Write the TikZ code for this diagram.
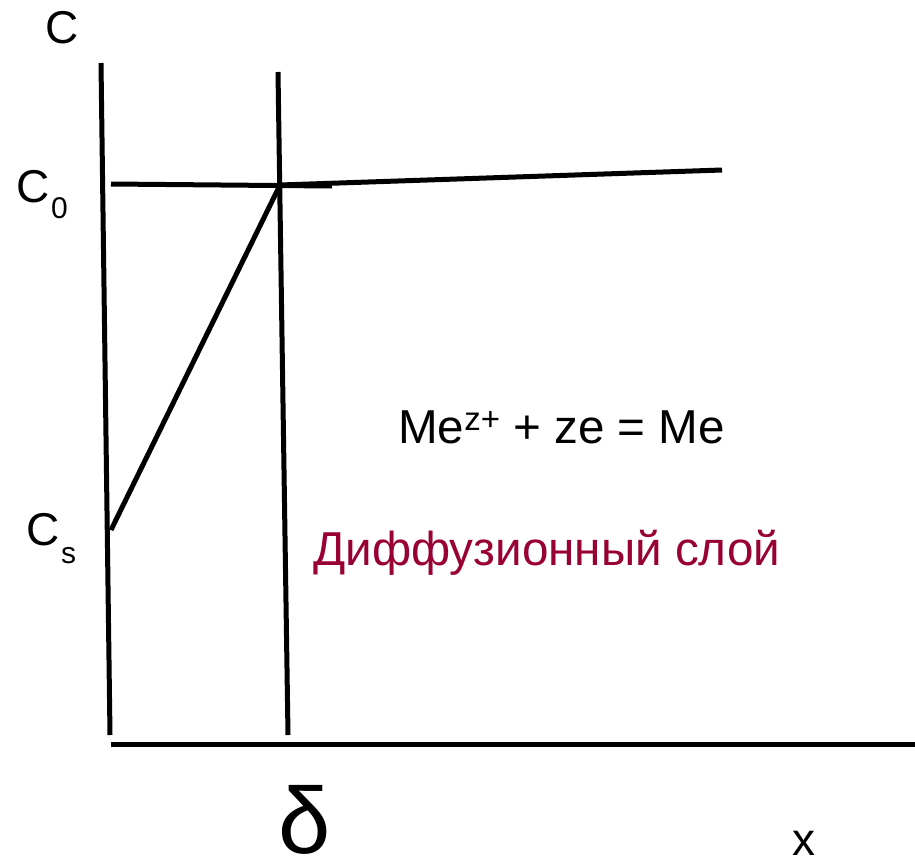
\documentclass[tikz,border=0pt]{standalone}
\usepackage{fontspec}
\setmainfont{Liberation Sans}
\definecolor{labelred}{RGB}{153,0,51}
\begin{document}
\begin{tikzpicture}[x=1pt,y=-1pt,
  axisline/.style={line width=5pt,black},
  lbl/.style={inner sep=0pt,anchor=base west,font=\fontsize{46}{50}\selectfont},
  biglbl/.style={inner sep=0pt,anchor=base west,font=\fontsize{47.6}{52}\selectfont},
  sub/.style={inner sep=0pt,anchor=base west,font=\fontsize{30}{34}\selectfont}]
\useasboundingbox (0,0) rectangle (915,857);
% coordinates
\coordinate (l1t) at (101,63);
\coordinate (l1b) at (110,735);
\coordinate (l2t) at (278,72);
\coordinate (l2b) at (288,735);
\coordinate (ax0) at (111,744);
\coordinate (ax1) at (915,744);
\coordinate (c0a) at (111,184);
\coordinate (c0b) at (332,186);
\coordinate (pk) at (280,185);
\coordinate (far) at (722,170);
\coordinate (cs) at (111,530);
% lines
\draw[axisline] (l1t) -- (l1b);
\draw[axisline] (l2t) -- (l2b);
\draw[axisline] (ax0) -- (ax1);
\draw[axisline] (c0a) -- (c0b);
\draw[axisline] (pk) -- (far);
\draw[axisline] (cs) -- (pk);
% labels
\node[lbl] (lc) at (45,43) {C};
\node[lbl] (lc0) at (16,202) {C};
\node[sub] (lc0s) at (51,218) {0};
\node[lbl] (lcs) at (26,545) {C};
\node[sub] (lcss) at (61,563) {s};
\node[inner sep=0pt,anchor=base west,font=\fontsize{94}{100}\selectfont] (ldelta) at (278,853) {δ};
\node[lbl] (lx) at (792,855) {x};
\node[biglbl] (eq) at (398,443) {Me\raisebox{13pt}{\fontsize{33}{35}\selectfont z+} + ze = Me};
\node[biglbl,text=labelred] (dl) at (313,565) {Диффузионный слой};
\end{tikzpicture}
\end{document}
